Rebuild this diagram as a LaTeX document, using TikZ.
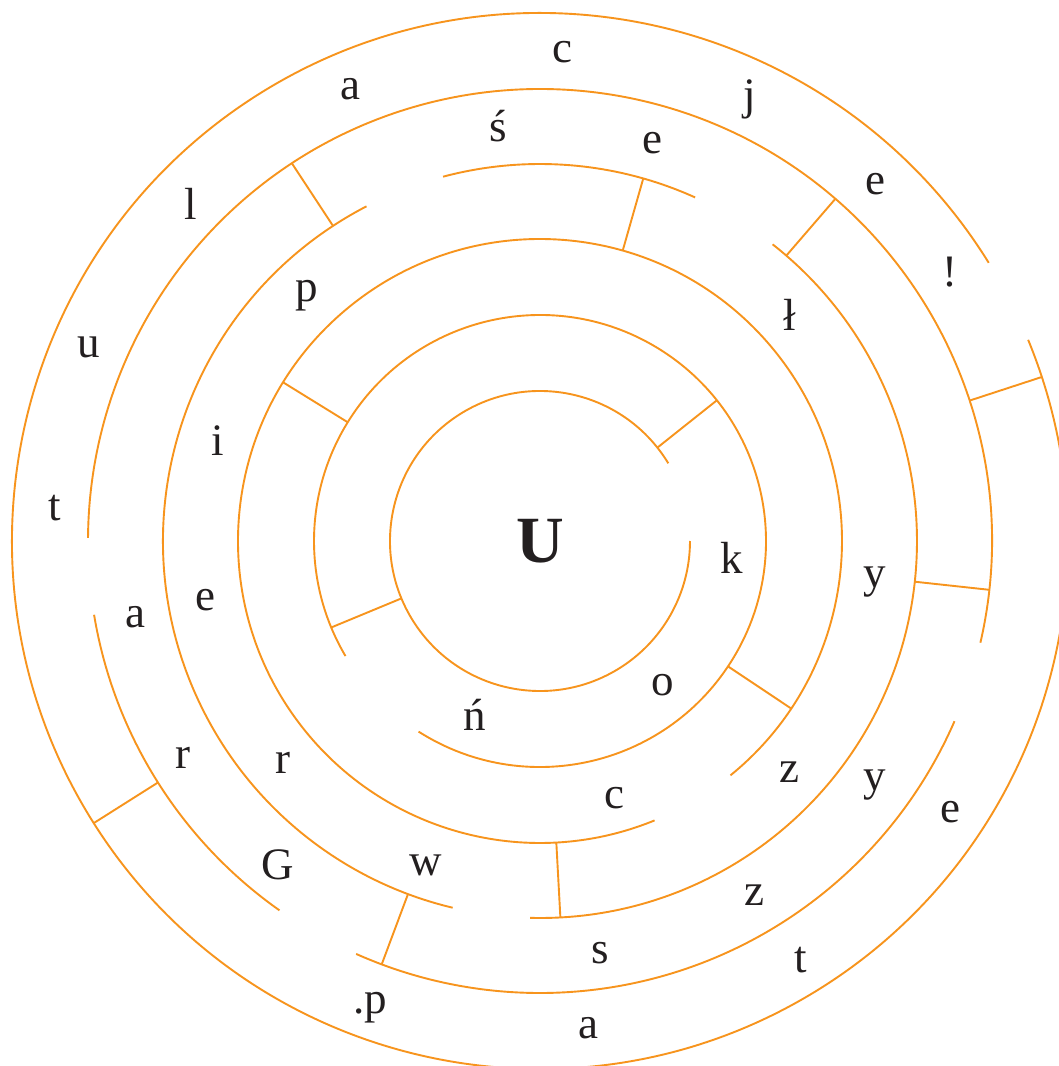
\documentclass[tikz,border=0pt]{standalone}
\usepackage{fontspec}
\setmainfont{Liberation Serif}
\definecolor{mazeorange}{RGB}{247,148,29}
\definecolor{lettergray}{RGB}{35,31,32}
\tikzset{
  maze/.style={draw=mazeorange, line width=1.9pt},
  letter/.style={anchor=base, inner sep=0pt, text=lettergray, font=\fontsize{45}{50}\selectfont},
  centre/.style={anchor=base, inner sep=0pt, text=lettergray, font=\fontsize{66}{70}\selectfont\bfseries}
}
\newcommand\mazearc[3]{\draw[maze] (#1:#3pt) arc[start angle=#1, end angle=#2, radius=#3pt];}
\newcommand\mazewall[3]{\draw[maze] (#1:#2pt) -- (#1:#3pt);}
\begin{document}
\begin{tikzpicture}[x=1pt,y=1pt]
\clip (-540,-525) rectangle (519,541);
\fill[white] (-540,-525) rectangle (519,541);
% rings
\mazearc{31.2}{360}{150}
\mazearc{237.5}{570.6}{226}
\mazearc{-50.9}{292.3}{302}
\mazearc{-91.5}{51.9}{377}
\mazearc{65.7}{104.9}{377}
\mazearc{117.4}{256.6}{377}
\mazearc{-13.0}{179.6}{452}
\mazearc{189.4}{234.8}{452}
\mazearc{246.0}{336.5}{452}
\mazearc{31.8}{382.4}{528}
% walls
\mazewall{38.5}{150}{226}
\mazewall{202.5}{150}{226}
\mazewall{148.3}{226}{302}
\mazewall{326.3}{226}{302}
\mazewall{74.1}{302}{377}
\mazewall{273.1}{302}{377}
\mazewall{49.2}{377}{452}
\mazewall{353.8}{377}{452}
\mazewall{123.3}{377}{452}
\mazewall{249.5}{377}{452}
\mazewall{212.3}{452}{528}
\mazewall{18.1}{452}{528}
% letters
\node[centre] (U) at (0,-21) {U};
\node[letter] (l1) at (22,478) {c};
\node[letter] (l2) at (-190,441) {a};
\node[letter] (l3) at (210,431) {j};
\node[letter] (l4) at (-42,399) {ś};
\node[letter] (l5) at (112,387) {e};
\node[letter] (l6) at (335,346) {e};
\node[letter] (l7) at (-349,321) {l};
\node[letter] (l8) at (410,254) {!};
\node[letter] (l9) at (-233,239) {p};
\node[letter] (l10) at (250,211) {ł};
\node[letter] (l11) at (-451,183) {u};
\node[letter] (l12) at (-322,86) {i};
\node[letter] (l13) at (-485,21) {t};
\node[letter] (l14) at (192,-32) {k};
\node[letter] (l15) at (335,-46) {y};
\node[letter] (l16) at (-405,-86) {a};
\node[letter] (l17) at (-335,-69) {e};
\node[letter] (l18) at (123,-154) {o};
\node[letter] (l19) at (-65,-189) {ń};
\node[letter] (l20) at (-357,-227) {r};
\node[letter] (l21) at (-257,-232) {r};
\node[letter] (l22) at (74,-267) {c};
\node[letter] (l23) at (249,-241) {z};
\node[letter] (l24) at (335,-249) {y};
\node[letter] (l25) at (410,-281) {e};
\node[letter] (l26) at (-262,-338) {G};
\node[letter] (l27) at (-114,-334) {w};
\node[letter] (l28) at (214,-364) {z};
\node[letter] (l29) at (60,-422) {s};
\node[letter] (l30) at (261,-431) {t};
\node[letter] (l31) at (-170,-472) {.p};
\node[letter] (l32) at (48,-497) {a};
\end{tikzpicture}
\end{document}
